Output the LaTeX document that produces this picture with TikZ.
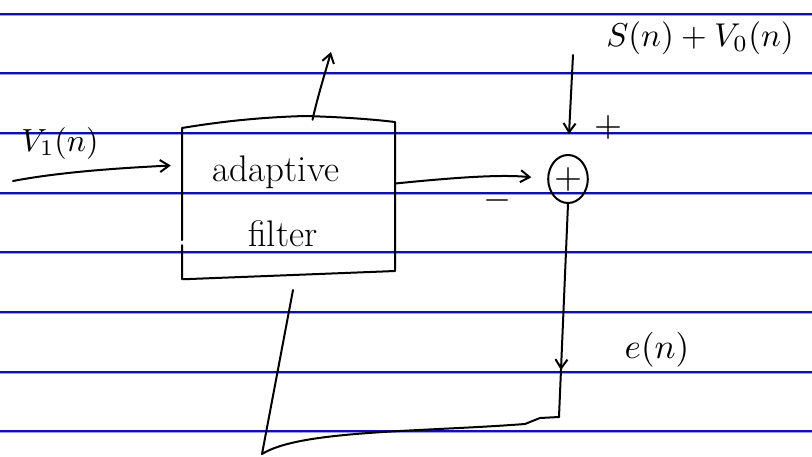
\documentclass[tikz,border=0pt]{standalone}
\usetikzlibrary{arrows.meta,shapes.geometric,decorations.markings}
\definecolor{ruledark}{RGB}{16,16,168}
\definecolor{rulelight}{RGB}{150,160,230}
\newcommand{\grownmath}[2]{\scalebox{#1}{$#2$}}
\begin{document}
\begin{tikzpicture}[x=1pt,y=-1pt,
  ink/.style={line width=2pt,black,line cap=round,line join=round},
  tip/.style={-{Straight Barb[length=9pt,width=12pt,line width=2pt]}},
  hand/.style={font=\fontsize{37}{40}\selectfont},
  sign/.style={inner sep=0pt},
  rule/.style={line width=1.4pt,ruledark},
  rulehalo/.style={line width=3pt,rulelight}]
\useasboundingbox (0,0) rectangle (812,456);
\fill[white] (0,0) rectangle (812,456);
% ruled paper
\foreach \yy in {14,73,133,193,252,312,372,431} {
  \draw[rulehalo] (0,\yy) -- (812,\yy);
  \draw[rule] (0,\yy) -- (812,\yy);
}
% adaptive filter block
\node[minimum width=213pt,minimum height=157pt,inner sep=0pt] (filt) at (288.5,198.5) {};
\draw[ink] (182,240) -- (182,128) .. controls (230,120) and (270,117) .. (305,116)
  .. controls (340,117) and (370,119) .. (395,122) -- (395,271)
  .. controls (320,274) and (240,277) .. (190,279) -- (182,279) -- (182,245);
\node[hand] (t1) at (276,172) {adaptive};
\node[hand] (t2) at (283,234) {filter};
% summing junction
\node[draw,ink,ellipse,minimum width=34pt,minimum height=48pt,inner sep=0pt] (sum) at (568,179) {\grownmath{3.6}{+}};
% free ends
\coordinate (in) at (13,181);
\coordinate (wout) at (331,52);
\coordinate (dtop) at (573,55);
\coordinate (fb) at (293,290);
\coordinate (c1) at (559,417);
\coordinate (c2) at (262,454);
% input signal
\draw[ink,tip] (in) .. controls (60,172) and (120,168) .. ([xshift=-11pt,yshift=33pt]filt.west);
% filter output to summer
\draw[ink,tip,shorten >=16pt] ([yshift=15pt]filt.east) .. controls (450,178) and (500,174) .. (sum.west);
% weight output
\draw[ink,tip] ([xshift=24pt]filt.north) .. controls (318,95) and (326,70) .. (wout);
% desired signal
\draw[ink,tip,shorten >=20pt] (dtop) -- (sum.north);
% error path back to the filter
\draw[ink,postaction={decorate},decoration={markings,mark=at position 0.78 with {\arrow{Straight Barb[length=9pt,width=12pt,line width=2pt]}}}]
  (sum.south) -- (c1);
\draw[ink] (c1) -- (540,418) -- (525,424) .. controls (420,432) and (300,430) .. (c2) -- (fb);
% labels
\node (lin) at (60,143) {\grownmath{3.2}{V_1(n)}};
\node (ld) at (700,38) {\grownmath{3.3}{S(n)+V_0(n)}};
\node (le) at (657,350) {\grownmath{3.5}{e(n)}};
\node[sign] (lp) at (608,127) {\grownmath{3.6}{+}};
\node[sign] (lm) at (497,200) {\grownmath{3.6}{-}};
\end{tikzpicture}
\end{document}
